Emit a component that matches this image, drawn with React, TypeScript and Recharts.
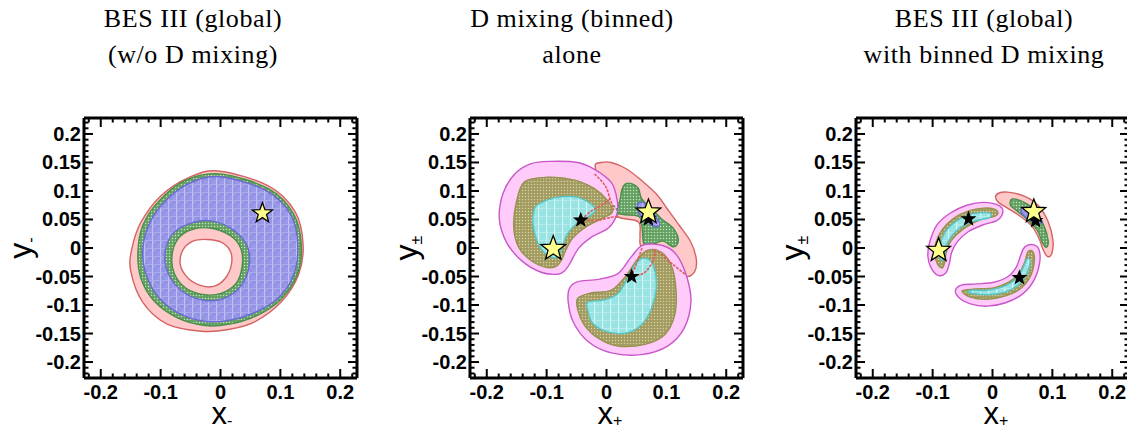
import React from "react";
import { ScatterChart, Scatter, XAxis, YAxis } from "recharts";

type Pair = [number, number];

// axis ticks
const xMajorTicks = [-0.2, -0.1, 0, 0.1, 0.2];
const xTickLabels = ["-0.2", "-0.1", "0", "0.1", "0.2"];
const xAllTicks = [
  -0.22, -0.2, -0.18, -0.16, -0.14, -0.12, -0.1, -0.08, -0.06, -0.04, -0.02, 0,
  0.02, 0.04, 0.06, 0.08, 0.1, 0.12, 0.14, 0.16, 0.18, 0.2, 0.22,
];
const yMajorTicks = [-0.2, -0.15, -0.1, -0.05, 0, 0.05, 0.1, 0.15, 0.2];
const yTickLabels = ["-0.2", "-0.15", "-0.1", "-0.05", "0", "0.05", "0.1", "0.15", "0.2"];
const yAllTicks = [
  -0.22, -0.21, -0.2, -0.19, -0.18, -0.17, -0.16, -0.15, -0.14, -0.13, -0.12,
  -0.11, -0.1, -0.09, -0.08, -0.07, -0.06, -0.05, -0.04, -0.03, -0.02, -0.01, 0,
  0.01, 0.02, 0.03, 0.04, 0.05, 0.06, 0.07, 0.08, 0.09, 0.1, 0.11, 0.12, 0.13,
  0.14, 0.15, 0.16, 0.17, 0.18, 0.19, 0.2, 0.21, 0.22,
];
const domain: Pair = [-0.228, 0.228];

const titles = [
  ["BES III (global)", "(w/o D mixing)"],
  ["D mixing (binned)", "alone"],
  ["BES III (global)", "with binned D mixing"],
];
const titleCenters = [193, 572, 984];
const xSubs = ["-", "+", "+"];
const ySubs = ["-", "±", "±"];

// panel 1: BES III alone
const p1Red: Pair[] = [[-0.004,0.135],[0.080,0.109],[0.125,0.063],[0.138,0.005],[0.130,-0.048],[0.102,-0.094],[0.058,-0.129],[0.013,-0.143],[-0.032,-0.146],[-0.090,-0.133],[-0.130,-0.095],[-0.150,-0.040],[-0.148,-0.001],[-0.133,0.045],[-0.099,0.092],[-0.054,0.123]];
const p1Green: Pair[] = [[-0.001,0.130],[0.080,0.104],[0.122,0.060],[0.135,0.005],[0.128,-0.048],[0.100,-0.091],[0.058,-0.120],[0.013,-0.134],[-0.026,-0.136],[-0.071,-0.123],[-0.110,-0.094],[-0.133,-0.053],[-0.138,-0.007],[-0.130,0.039],[-0.105,0.080],[-0.060,0.118]];
const p1Blue: Pair[] = [[-0.001,0.125],[0.077,0.100],[0.118,0.057],[0.129,0.005],[0.122,-0.048],[0.096,-0.088],[0.055,-0.114],[0.013,-0.127],[-0.023,-0.129],[-0.065,-0.117],[-0.102,-0.088],[-0.123,-0.050],[-0.130,-0.007],[-0.121,0.037],[-0.098,0.076],[-0.055,0.112]];
const p1BlueIn: Pair[] = [[-0.018,0.048],[0.018,0.034],[0.044,0.005],[0.048,-0.030],[0.035,-0.065],[0.007,-0.088],[-0.026,-0.092],[-0.060,-0.079],[-0.085,-0.050],[-0.093,-0.013],[-0.082,0.022],[-0.054,0.042]];
const p1GreenIn: Pair[] = [[-0.018,0.035],[0.016,0.022],[0.034,-0.001],[0.036,-0.033],[0.026,-0.062],[0.002,-0.079],[-0.026,-0.082],[-0.057,-0.071],[-0.077,-0.045],[-0.081,-0.013],[-0.071,0.016],[-0.049,0.032]];
const p1Hole: Pair[] = [[-0.023,0.015],[0.002,0.010],[0.017,-0.007],[0.018,-0.030],[0.008,-0.053],[-0.010,-0.067],[-0.032,-0.066],[-0.054,-0.053],[-0.067,-0.030],[-0.063,-0.004],[-0.046,0.012]];
const p1Yellow: Pair[] = [[0.070, 0.061]];

// panel 2: D mixing alone
const p2Red: Pair[] = [[-0.019,0.144],[-0.009,0.150],[0.008,0.150],[0.033,0.139],[0.058,0.119],[0.083,0.095],[0.102,0.068],[0.122,0.039],[0.141,0.010],[0.150,-0.020],[0.147,-0.042],[0.132,-0.050],[0.108,-0.035],[0.083,-0.012],[0.058,0.003],[0.056,0.022],[0.053,0.046],[0.020,0.054],[0.008,0.074],[-0.009,0.109]];
const p2Green: Pair[] = [[0.031,0.112],[0.042,0.113],[0.053,0.105],[0.059,0.086],[0.076,0.068],[0.092,0.051],[0.112,0.034],[0.120,0.013],[0.112,0.002],[0.095,0.012],[0.081,0.008],[0.070,0.001],[0.062,0.008],[0.059,0.039],[0.053,0.056],[0.020,0.061],[0.023,0.086],[0.026,0.103]];
const p2Blue: Pair[] = [[0.052,0.077],[0.061,0.080],[0.072,0.071],[0.083,0.054],[0.089,0.041],[0.080,0.038],[0.066,0.048],[0.055,0.060]];
const p2UlPink: Pair[] = [[-0.092,0.152],[-0.048,0.150],[-0.020,0.138],[0.008,0.115],[0.018,0.083],[0.017,0.058],[0.003,0.035],[-0.025,0.019],[-0.047,-0.001],[-0.061,-0.027],[-0.070,-0.040],[-0.081,-0.046],[-0.108,-0.043],[-0.141,-0.023],[-0.167,0.010],[-0.179,0.051],[-0.173,0.095],[-0.154,0.129],[-0.126,0.148]];
const p2UlOlive: Pair[] = [[-0.137,0.116],[-0.098,0.124],[-0.053,0.119],[-0.020,0.104],[0.002,0.083],[0.010,0.064],[-0.005,0.053],[-0.033,0.038],[-0.056,0.018],[-0.068,-0.004],[-0.075,-0.021],[-0.084,-0.032],[-0.101,-0.034],[-0.126,-0.022],[-0.147,0.002],[-0.155,0.037],[-0.151,0.078]];
const p2UlCyan: Pair[] = [[-0.115,0.076],[-0.087,0.088],[-0.053,0.090],[-0.028,0.079],[-0.019,0.066],[-0.030,0.055],[-0.050,0.043],[-0.065,0.025],[-0.073,0.005],[-0.079,-0.012],[-0.088,-0.017],[-0.104,-0.008],[-0.117,0.015],[-0.123,0.045],[-0.121,0.066]];
const p2LoPink: Pair[] = [[-0.062,-0.071],[-0.048,-0.059],[-0.014,-0.055],[0.019,-0.045],[0.041,-0.016],[0.061,0.005],[0.095,0.004],[0.117,-0.012],[0.134,-0.050],[0.141,-0.094],[0.130,-0.140],[0.102,-0.172],[0.058,-0.187],[0.008,-0.184],[-0.031,-0.164],[-0.056,-0.129],[-0.064,-0.094]];
const p2LoOlive: Pair[] = [[-0.048,-0.088],[-0.026,-0.079],[0.008,-0.074],[0.033,-0.048],[0.052,-0.019],[0.069,-0.004],[0.091,-0.007],[0.108,-0.030],[0.116,-0.071],[0.114,-0.117],[0.097,-0.152],[0.064,-0.169],[0.019,-0.172],[-0.014,-0.158],[-0.037,-0.135],[-0.048,-0.108]];
const p2LoCyan: Pair[] = [[-0.031,-0.095],[-0.003,-0.091],[0.020,-0.079],[0.038,-0.048],[0.052,-0.023],[0.069,-0.019],[0.080,-0.036],[0.083,-0.071],[0.075,-0.106],[0.058,-0.135],[0.033,-0.149],[0.002,-0.147],[-0.023,-0.132],[-0.031,-0.110]];
const p2RedDotA: Pair[] = [[-0.019,0.129],[-0.002,0.109],[0.006,0.086],[0.012,0.068]];
const p2RedDotB: Pair[] = [[-0.041,0.051],[-0.025,0.065],[-0.005,0.077],[0.006,0.086]];
const p2RedDotC: Pair[] = [[-0.038,0.048],[-0.013,0.049],[0.009,0.054],[0.020,0.054]];
const p2GreenDot: Pair[] = [[0.012,0.074],[0.017,0.068],[0.020,0.057]];
const p2RedDotD: Pair[] = [[0.042,-0.050],[0.053,-0.019],[0.059,-0.001]];
const p2RedDotE: Pair[] = [[0.045,-0.050],[0.065,-0.042],[0.079,-0.019],[0.081,-0.001]];
const p2RedDotF: Pair[] = [[0.087,-0.007],[0.109,-0.027],[0.131,-0.046]];
const p2Yellow: Pair[] = [[-0.089,-0.001],[0.070,0.063]];
const p2Black: Pair[] = [[-0.043,0.049],[0.070,0.051],[0.042,-0.050]];

// panel 3: combined
const p3RPink: Pair[] = [[0.010,0.096],[0.025,0.098],[0.053,0.091],[0.076,0.075],[0.093,0.046],[0.101,0.013],[0.099,-0.010],[0.092,-0.015],[0.085,-0.004],[0.078,0.016],[0.066,0.038],[0.046,0.056],[0.025,0.070],[0.010,0.080],[0.005,0.089]];
const p3RGreen: Pair[] = [[0.033,0.086],[0.053,0.080],[0.072,0.065],[0.086,0.039],[0.093,0.013],[0.090,0.001],[0.083,0.010],[0.075,0.031],[0.058,0.050],[0.041,0.065],[0.030,0.075]];
const p3RBlue: Pair[] = [[0.050,0.071],[0.064,0.066],[0.082,0.048],[0.075,0.042],[0.061,0.050],[0.049,0.061]];
const p3LPink: Pair[] = [[0.017,0.061],[0.012,0.074],[-0.015,0.080],[-0.043,0.075],[-0.071,0.061],[-0.093,0.040],[-0.105,0.010],[-0.108,-0.014],[-0.103,-0.034],[-0.091,-0.048],[-0.078,-0.044],[-0.072,-0.027],[-0.068,-0.007],[-0.058,0.012],[-0.040,0.029],[-0.015,0.041],[0.007,0.048]];
const p3LOlive: Pair[] = [[0.009,0.061],[0.003,0.068],[-0.015,0.070],[-0.040,0.065],[-0.065,0.052],[-0.084,0.032],[-0.095,0.008],[-0.096,-0.013],[-0.092,-0.028],[-0.084,-0.035],[-0.080,-0.026],[-0.077,-0.007],[-0.069,0.013],[-0.048,0.034],[-0.020,0.050],[0.002,0.055]];
const p3LCyan: Pair[] = [[-0.003,0.060],[-0.015,0.062],[-0.037,0.059],[-0.059,0.048],[-0.077,0.031],[-0.087,0.008],[-0.088,-0.013],[-0.084,-0.022],[-0.080,-0.010],[-0.075,0.010],[-0.056,0.034],[-0.031,0.047],[-0.006,0.053]];
const p3LoPink: Pair[] = [[-0.062,-0.075],[-0.055,-0.088],[-0.037,-0.098],[-0.009,-0.102],[0.022,-0.096],[0.051,-0.080],[0.070,-0.055],[0.079,-0.024],[0.077,-0.001],[0.067,0.006],[0.054,0.002],[0.047,-0.013],[0.040,-0.033],[0.026,-0.050],[0.002,-0.060],[-0.027,-0.063],[-0.052,-0.065]];
const p3LoOlive: Pair[] = [[-0.051,-0.075],[-0.037,-0.086],[-0.009,-0.090],[0.022,-0.084],[0.047,-0.071],[0.064,-0.048],[0.070,-0.021],[0.067,-0.006],[0.059,-0.007],[0.054,-0.024],[0.044,-0.045],[0.027,-0.060],[0.002,-0.070],[-0.029,-0.072]];
const p3LoCyan: Pair[] = [[-0.040,-0.078],[-0.009,-0.082],[0.022,-0.077],[0.044,-0.064],[0.057,-0.045],[0.063,-0.023],[0.058,-0.019],[0.051,-0.035],[0.041,-0.052],[0.022,-0.066],[-0.009,-0.074],[-0.034,-0.074]];
const p3Yellow: Pair[] = [[-0.090,-0.004],[0.069,0.064]];
const p3Black: Pair[] = [[-0.040,0.051],[0.072,0.048],[0.045,-0.052]];

const PINK = { fill: "#ffc9c9", stroke: "#d46363" };
const GREEN = { fill: "url(#greenDots)", stroke: "#4b8e4b" };
const BLUE = { fill: "url(#blueGrid)", stroke: "#6a6ad4" };
const MAGENTA = { fill: "#ffcbfb", stroke: "#c957c9" };
const OLIVE = { fill: "url(#oliveDots)", stroke: "#97914f" };
const CYAN = { fill: "url(#cyanGrid)", stroke: "#58c6c6" };

type Layer = { pts: Pair[]; fill: string; stroke: string; sw?: number };
type Dots = { pts: Pair[]; stroke: string };

const panels: { layers: Layer[]; dots: Dots[]; yellow: Pair[]; black: Pair[]; yr: number }[] = [
  {
    layers: [
      { pts: p1Red, ...PINK },
      { pts: p1Green, ...GREEN },
      { pts: p1Blue, ...BLUE },
      { pts: p1BlueIn, fill: "url(#greenDots)", stroke: "#6a6ad4" },
      { pts: p1GreenIn, fill: "#ffc9c9", stroke: "#4b8e4b" },
      { pts: p1Hole, fill: "#ffffff", stroke: "#d46363" },
    ],
    dots: [],
    yellow: p1Yellow,
    black: [],
    yr: 10.5,
  },
  {
    layers: [
      { pts: p2Red, ...PINK },
      { pts: p2Green, ...GREEN },
      { pts: p2Blue, ...BLUE },
      { pts: p2UlPink, ...MAGENTA },
      { pts: p2UlOlive, ...OLIVE },
      { pts: p2UlCyan, ...CYAN },
      { pts: p2LoPink, ...MAGENTA },
      { pts: p2LoOlive, ...OLIVE },
      { pts: p2LoCyan, ...CYAN },
    ],
    dots: [
      { pts: p2RedDotA, stroke: "#e05a5a" },
      { pts: p2RedDotB, stroke: "#e05a5a" },
      { pts: p2RedDotC, stroke: "#e05a5a" },
      { pts: p2GreenDot, stroke: "#4b9e4b" },
      { pts: p2RedDotD, stroke: "#e05a5a" },
      { pts: p2RedDotE, stroke: "#e05a5a" },
      { pts: p2RedDotF, stroke: "#e05a5a" },
    ],
    yellow: p2Yellow,
    black: p2Black,
    yr: 13,
  },
  {
    layers: [
      { pts: p3RPink, ...PINK },
      { pts: p3RGreen, ...GREEN },
      { pts: p3RBlue, ...BLUE },
      { pts: p3LPink, ...MAGENTA },
      { pts: p3LOlive, ...OLIVE },
      { pts: p3LCyan, ...CYAN },
      { pts: p3LoPink, ...MAGENTA },
      { pts: p3LoOlive, ...OLIVE },
      { pts: p3LoCyan, ...CYAN },
    ],
    dots: [],
    yellow: p3Yellow,
    black: p3Black,
    yr: 12.5,
  },
];

const toPts = (arr: Pair[]) => arr.map(([x, y]) => ({ x, y }));

// Catmull-Rom through the scaled points
function splinePath(pts: { x: number; y: number }[], closed: boolean) {
  const n = pts.length;
  if (n < 2) return "";
  const get = (i: number) =>
    closed ? pts[(i + n) % n] : pts[Math.max(0, Math.min(n - 1, i))];
  let d = `M${pts[0].x},${pts[0].y}`;
  const segs = closed ? n : n - 1;
  for (let i = 0; i < segs; i++) {
    const p0 = get(i - 1), p1 = get(i), p2 = get(i + 1), p3 = get(i + 2);
    const c1x = p1.x + (p2.x - p0.x) / 6, c1y = p1.y + (p2.y - p0.y) / 6;
    const c2x = p2.x - (p3.x - p1.x) / 6, c2y = p2.y - (p3.y - p1.y) / 6;
    d += `C${c1x},${c1y} ${c2x},${c2y} ${p2.x},${p2.y}`;
  }
  return closed ? d + "Z" : d;
}

const regionLine = (fill: string, stroke: string, sw: number) => (p: any) =>
  <path d={splinePath(p.points, true)} fill={fill} stroke={stroke} strokeWidth={sw} />;

const dottedLine = (stroke: string) => (p: any) =>
  (
    <path
      d={splinePath(p.points, false)}
      fill="none"
      stroke={stroke}
      strokeWidth={1.6}
      strokeDasharray="1.5 2.5"
      strokeLinecap="round"
    />
  );

const NoDot = () => <g />;

function starPath(cx: number, cy: number, r: number) {
  let d = "";
  for (let i = 0; i < 10; i++) {
    const rr = i % 2 === 0 ? r : r * 0.42;
    const a = -Math.PI / 2 + (i * Math.PI) / 5;
    d += `${i === 0 ? "M" : "L"}${cx + rr * Math.cos(a)},${cy + rr * Math.sin(a)}`;
  }
  return d + "Z";
}

const starShape = (r: number, fill: string) => (p: any) =>
  <path d={starPath(p.cx, p.cy, r)} fill={fill} stroke="#000" strokeWidth={1.3} strokeLinejoin="miter" />;

const findLabel = (v: number, majors: number[], labels: string[]) => {
  const i = majors.findIndex((m) => Math.abs(m - v) < 1e-6);
  return i >= 0 ? labels[i] : null;
};

const tickFont = {
  fontFamily: "'Liberation Sans', Arial, sans-serif",
  fontWeight: 700,
  fontSize: 20,
  fill: "#000",
};

function FrameTick(props: any) {
  const { x, y, payload, side, showLabel } = props;
  const horiz = side === "bottom" || side === "top";
  const label = horiz
    ? findLabel(payload.value, xMajorTicks, xTickLabels)
    : findLabel(payload.value, yMajorTicks, yTickLabels);
  const len = label !== null ? 9 : 4.5;
  let x2 = x, y2 = y;
  if (side === "bottom") y2 = y - len;
  if (side === "top") y2 = y + len;
  if (side === "left") x2 = x + len;
  if (side === "right") x2 = x - len;
  return (
    <g>
      <line x1={x} y1={y} x2={x2} y2={y2} stroke="#000" strokeWidth={2} />
      {showLabel && label !== null && side === "bottom" && (
        <text x={x} y={y + 21} textAnchor="middle" {...tickFont}>{label}</text>
      )}
      {showLabel && label !== null && side === "left" && (
        <text x={x - 3} y={y + 7} textAnchor="end" {...tickFont}>{label}</text>
      )}
    </g>
  );
}

const CHART_W = 386;
const CHART_H = 430;
const PLOT_LEFT = 84;
const PLOT_W = 273;
const PLOT_TOP = 118;
const PLOT_H = 260;

function Panel({ idx }: { idx: number }) {
  const pn = panels[idx];
  const axisLine = { stroke: "#000", strokeWidth: 3 };
  return (
    <ScatterChart
      width={CHART_W}
      height={CHART_H}
      margin={{ top: PLOT_TOP - 1, right: CHART_W - PLOT_LEFT - PLOT_W - 1, bottom: 0, left: 0 }}
    >
      <XAxis
        xAxisId="b"
        dataKey="x"
        type="number"
        domain={domain}
        allowDataOverflow
        ticks={xAllTicks}
        interval={0}
        height={CHART_H - PLOT_TOP - PLOT_H}
        tickSize={0}
        tickMargin={0}
        tickLine={false}
        axisLine={axisLine}
        tick={<FrameTick side="bottom" showLabel />}
      />
      <XAxis
        xAxisId="t"
        orientation="top"
        dataKey="x"
        type="number"
        domain={domain}
        allowDataOverflow
        ticks={xAllTicks}
        interval={0}
        height={1}
        tickSize={0}
        tickMargin={0}
        tickLine={false}
        axisLine={axisLine}
        tick={<FrameTick side="top" />}
      />
      <YAxis
        yAxisId="l"
        dataKey="y"
        type="number"
        domain={domain}
        allowDataOverflow
        ticks={yAllTicks}
        interval={0}
        width={PLOT_LEFT}
        tickSize={0}
        tickMargin={0}
        tickLine={false}
        axisLine={axisLine}
        tick={<FrameTick side="left" showLabel />}
      />
      <YAxis
        yAxisId="r"
        orientation="right"
        dataKey="y"
        type="number"
        domain={domain}
        allowDataOverflow
        ticks={yAllTicks}
        interval={0}
        width={1}
        tickSize={0}
        tickMargin={0}
        tickLine={false}
        axisLine={axisLine}
        tick={<FrameTick side="right" />}
      />
      {pn.layers.map((l, i) => (
        <Scatter
          key={`layer-${i}`}
          xAxisId="b"
          yAxisId="l"
          data={toPts(l.pts)}
          shape={NoDot}
          line={regionLine(l.fill, l.stroke, l.sw ?? 1.4)}
          isAnimationActive={false}
        />
      ))}
      {pn.dots.map((l, i) => (
        <Scatter
          key={`dots-${i}`}
          xAxisId="b"
          yAxisId="l"
          data={toPts(l.pts)}
          shape={NoDot}
          line={dottedLine(l.stroke)}
          isAnimationActive={false}
        />
      ))}
      <Scatter
        xAxisId="t"
        yAxisId="r"
        data={toPts(pn.black)}
        shape={starShape(6.5, "#000")}
        isAnimationActive={false}
      />
      <Scatter
        xAxisId="t"
        yAxisId="r"
        data={toPts(pn.yellow)}
        shape={starShape(pn.yr, "#ffff8c")}
        isAnimationActive={false}
      />
    </ScatterChart>
  );
}

const labelFont = "'Liberation Sans', Arial, sans-serif";

export default function App() {
  return (
    <div
      style={{
        position: "absolute",
        left: 0,
        top: 0,
        width: 1127,
        height: 430,
        overflow: "hidden",
        background: "#fff",
      }}
    >
      <svg width={0} height={0} style={{ position: "absolute" }}>
        <defs>
          <pattern id="blueGrid" width="8" height="8" patternUnits="userSpaceOnUse">
            <rect width="8" height="8" fill="#9a9ae8" />
            <rect x="4" y="0" width="4" height="4" fill="#9292e4" />
            <rect x="0" y="4" width="4" height="4" fill="#9292e4" />
            <rect x="0" y="0" width="1.2" height="8" fill="#c2c2f5" />
            <rect x="0" y="0" width="8" height="0.8" fill="#b2b2f0" />
          </pattern>
          <pattern id="greenDots" width="3" height="3" patternUnits="userSpaceOnUse">
            <rect width="3" height="3" fill="#62a062" />
            <circle cx="1.5" cy="1.5" r="0.75" fill="#c6e2be" />
          </pattern>
          <pattern id="oliveDots" width="3" height="3" patternUnits="userSpaceOnUse">
            <rect width="3" height="3" fill="#a29b60" />
            <circle cx="1.5" cy="1.5" r="0.75" fill="#d8d2a4" />
          </pattern>
          <pattern id="cyanGrid" width="8" height="8" patternUnits="userSpaceOnUse">
            <rect width="8" height="8" fill="#98e4e4" />
            <rect x="0" y="0" width="1.2" height="8" fill="#d6f6f6" />
            <rect x="0" y="0" width="8" height="0.8" fill="#c0eeee" />
          </pattern>
        </defs>
      </svg>
      {titles.map((t, i) => (
        <div
          key={`title-${i}`}
          style={{
            position: "absolute",
            left: titleCenters[i] - 200,
            width: 400,
            top: 1,
            textAlign: "center",
            fontFamily: "'Liberation Serif', 'Times New Roman', serif",
            fontSize: 26,
            letterSpacing: 0.6,
            lineHeight: "36px",
            color: "#000",
            whiteSpace: "nowrap",
          }}
        >
          {t[0]}
          <br />
          {t[1]}
        </div>
      ))}
      {panels.map((_, i) => (
        <div key={`panel-${i}`} style={{ position: "absolute", left: i * CHART_W, top: 0 }}>
          <Panel idx={i} />
          <div
            style={{
              position: "absolute",
              left: PLOT_LEFT + PLOT_W / 2 - 9,
              top: 405,
              fontFamily: labelFont,
              fontSize: 31,
              lineHeight: "18px",
              whiteSpace: "nowrap",
            }}
          >
            x
            <span style={{ fontSize: 16, position: "relative", top: 2 }}>{xSubs[i]}</span>
          </div>
          <div
            style={{
              position: "absolute",
              left: PLOT_LEFT - 61,
              top: 248,
              transform: "translate(-50%, -50%) rotate(-90deg)",
              fontFamily: labelFont,
              fontSize: 32,
              lineHeight: "22px",
              whiteSpace: "nowrap",
            }}
          >
            y
            <span style={{ fontSize: 16, position: "relative", top: 5 }}>{ySubs[i]}</span>
          </div>
        </div>
      ))}
    </div>
  );
}
